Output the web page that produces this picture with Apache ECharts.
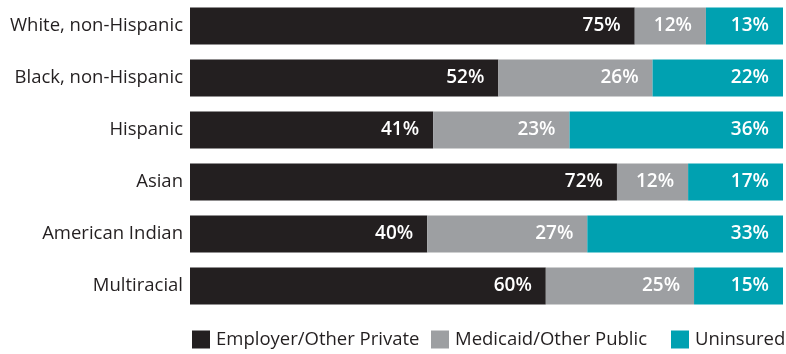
<!DOCTYPE html>
<html>
<head>
<meta charset="utf-8">
<script src="https://cdn.jsdelivr.net/npm/echarts@6/dist/echarts.min.js"></script>
<style>
  html, body { margin: 0; padding: 0; background: #fff; }
  #chart { width: 786px; height: 354px; }
</style>
</head>
<body>
<div id="chart"></div>
<script>
// Health coverage by race/ethnicity (percent of each group)
const categories = ['White, non-Hispanic', 'Black, non-Hispanic', 'Hispanic', 'Asian', 'American Indian', 'Multiracial'];
const seriesNames = ['Employer/Other Private', 'Medicaid/Other Public', 'Uninsured'];
const privateVals = [75, 52, 41, 72, 40, 60];
const publicVals = [12, 26, 23, 12, 27, 25];
const uninsuredVals = [13, 22, 36, 17, 33, 15];

const colors = ['#231f20', '#9d9fa2', '#00a1b1'];
const fontFamily = '"Open Sans", "Noto Sans", sans-serif';

function makeSeries(name, data, color) {
  return {
    name: name,
    type: 'bar',
    stack: 'total',
    data: data,
    barWidth: 37,
    itemStyle: { color: color },
    label: {
      show: true,
      position: 'insideRight',
      distance: 14,
      formatter: '{c}%',
      color: '#ffffff',
      fontFamily: fontFamily,
      fontWeight: 600,
      fontSize: 19
    }
  };
}

// one legend block per series so each entry sits at its own x position
const legendLefts = [192, 431, 671];
const legends = seriesNames.map((name, i) => ({
  data: [name],
  left: legendLefts[i],
  top: 330,
  itemWidth: 18,
  itemHeight: 18,
  icon: 'rect',
  padding: 0,
  textStyle: { fontFamily: fontFamily, fontSize: 18.5, color: '#231f20', padding: [5, 0, 0, 1] }
}));

const chart = echarts.init(document.getElementById('chart'), null, { renderer: 'canvas' });
chart.setOption({
  animation: false,
  grid: { left: 190, right: 3, top: 0, height: 312, containLabel: false },
  legend: legends,
  xAxis: {
    type: 'value',
    min: 0,
    max: 100,
    show: false
  },
  yAxis: {
    type: 'category',
    data: categories,
    inverse: true,
    axisLine: { show: false },
    axisTick: { show: false },
    axisLabel: {
      margin: 7,
      padding: [4, 0, 0, 0],
      color: '#231f20',
      fontFamily: fontFamily,
      fontSize: 18.5
    }
  },
  series: [
    makeSeries(seriesNames[0], privateVals, colors[0]),
    makeSeries(seriesNames[1], publicVals, colors[1]),
    makeSeries(seriesNames[2], uninsuredVals, colors[2])
  ]
});
</script>
</body>
</html>
